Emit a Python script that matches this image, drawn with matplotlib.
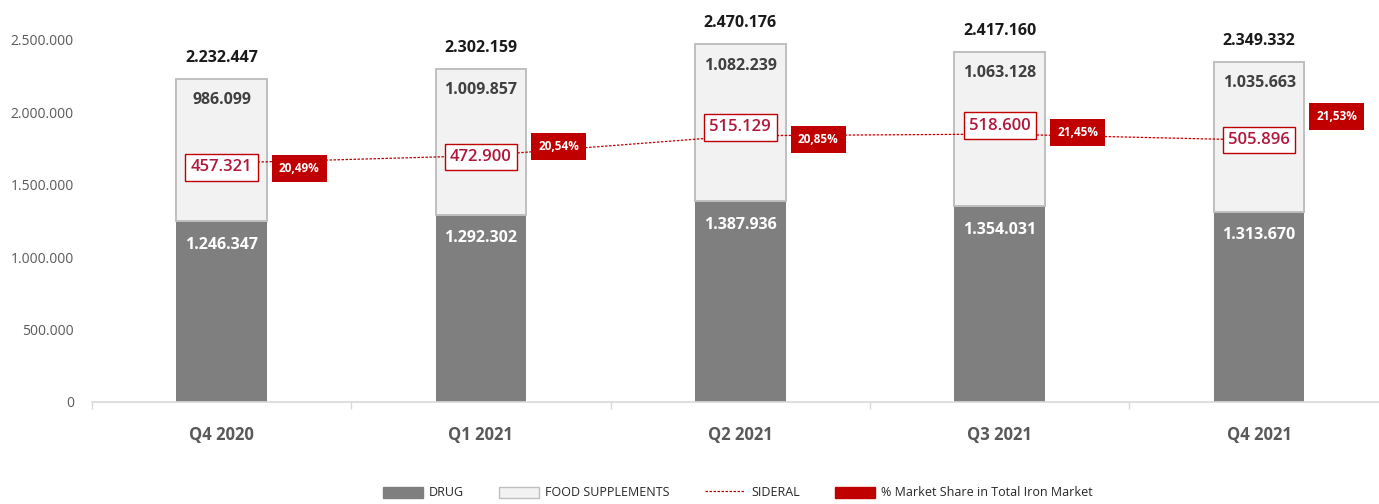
import numpy as np
import matplotlib; matplotlib.use("Agg")
import matplotlib.pyplot as plt
from matplotlib.patches import Patch
from matplotlib.lines import Line2D

plt.rcParams['font.family'] = ['Open Sans', 'DejaVu Sans']

# ---- data ----
quarters = ["Q4 2020", "Q1 2021", "Q2 2021", "Q3 2021", "Q4 2021"]
drug = [1246347, 1292302, 1387936, 1354031, 1313670]
food = [986099, 1009857, 1082239, 1063128, 1035663]
totals = [2232447, 2302159, 2470176, 2417160, 2349332]
sideral = [457321, 472900, 515129, 518600, 505896]
share = ["20,49%", "20,54%", "20,85%", "21,45%", "21,53%"]

# label nudges (points, + = up) relative to the SIDERAL line
box_dy = [-3, -1, 6, 6, 0]
share_dy = [-4, 6.5, -2.5, 1, 17]

RED = "#c00000"; TXTRED = "#b0173a"; GREY = "#595959"
fmt = lambda v: f"{v:,.0f}".replace(",", ".")

fig = plt.figure(figsize=(13.79, 5.04), dpi=100)
ax = fig.add_axes([0.0666, 0.2024, 0.9405, 0.7758])
x = np.arange(len(quarters))
w = 0.35
ax.bar(x, drug, w, color="#7f7f7f", zorder=2)
ax.bar(x, food, w, bottom=drug, color="#f2f2f2", edgecolor="#bfbfbf", lw=1.4, zorder=2)
ax.set_xlim(-0.5, 4.5); ax.set_ylim(0, 2.7e6)
ax.set_yticks(np.arange(0, 2.5e6 + 1, 5e5))
ax.set_yticklabels([fmt(v) for v in ax.get_yticks()], color=GREY, fontsize=10)
ax.tick_params(axis="y", length=0, pad=13)
ax.set_xticks(x); ax.set_xticklabels(quarters, fontsize=12, fontweight="bold", color=GREY)
ax.set_xticks(np.arange(-0.5, 5, 1), minor=True)
ax.tick_params(axis="x", which="major", length=0, pad=17)
ax.tick_params(axis="x", which="minor", length=5, color="#d9d9d9", width=1)
for s in ["top", "right", "left"]: ax.spines[s].set_visible(False)
ax.spines["bottom"].set_color("#d9d9d9"); ax.spines["bottom"].set_linewidth(1.2)

for i in x:
    ax.annotate(fmt(totals[i]), (i, totals[i]), xytext=(0, 15), textcoords="offset points",
                ha="center", va="center", fontsize=11.5, fontweight="bold", color="#1a1a1a")
    ax.annotate(fmt(food[i]), (i, totals[i]), xytext=(0, -15.5), textcoords="offset points",
                ha="center", va="center", fontsize=11.5, fontweight="bold", color="#404040")
    ax.annotate(fmt(drug[i]), (i, drug[i]), xytext=(0, -17), textcoords="offset points",
                ha="center", va="center", fontsize=11.5, fontweight="bold", color="white")

# SIDERAL on a hidden secondary scale
ax2 = ax.twinx()
ax2.set_ylim(-48000, 779000)
ax2.axis("off")
ax2.plot(x, sideral, color=RED, lw=0.9, ls=(0, (2, 1.2)), zorder=1)
for i in x:
    ax2.annotate(fmt(sideral[i]), (i, sideral[i]), xytext=(0, box_dy[i]), textcoords="offset points",
                 ha="center", va="center", fontsize=12, fontweight="semibold", color=TXTRED, zorder=5,
                 bbox=dict(boxstyle="square,pad=0.32", fc="white", ec=RED, lw=1))
    ax2.annotate(share[i], (i + 0.3, sideral[i]), xytext=(0, share_dy[i]), textcoords="offset points",
                 ha="center", va="center", fontsize=8.5, fontweight="bold", color="white", zorder=5,
                 bbox=dict(boxstyle="square,pad=0.6", fc=RED, ec=RED, lw=0))

handles = [Patch(fc="#7f7f7f", ec="#7f7f7f"),
           Patch(fc="#f2f2f2", ec="#bfbfbf"),
           Line2D([], [], color=RED, lw=0.9, ls=(0, (2, 1.2))),
           Patch(fc=RED, ec=RED)]
labels = ["DRUG", "FOOD SUPPLEMENTS", "SIDERAL", "% Market Share in Total Iron Market"]
fig.legend(handles, labels, loc="center", bbox_to_anchor=(0.535, 0.022), ncol=4, frameon=False,
           fontsize=9, handlelength=3.2, handleheight=1.0, columnspacing=2.8, handletextpad=0.5,
           labelcolor="#262626", borderpad=0.1)

fig.savefig("out.png", dpi=100)
